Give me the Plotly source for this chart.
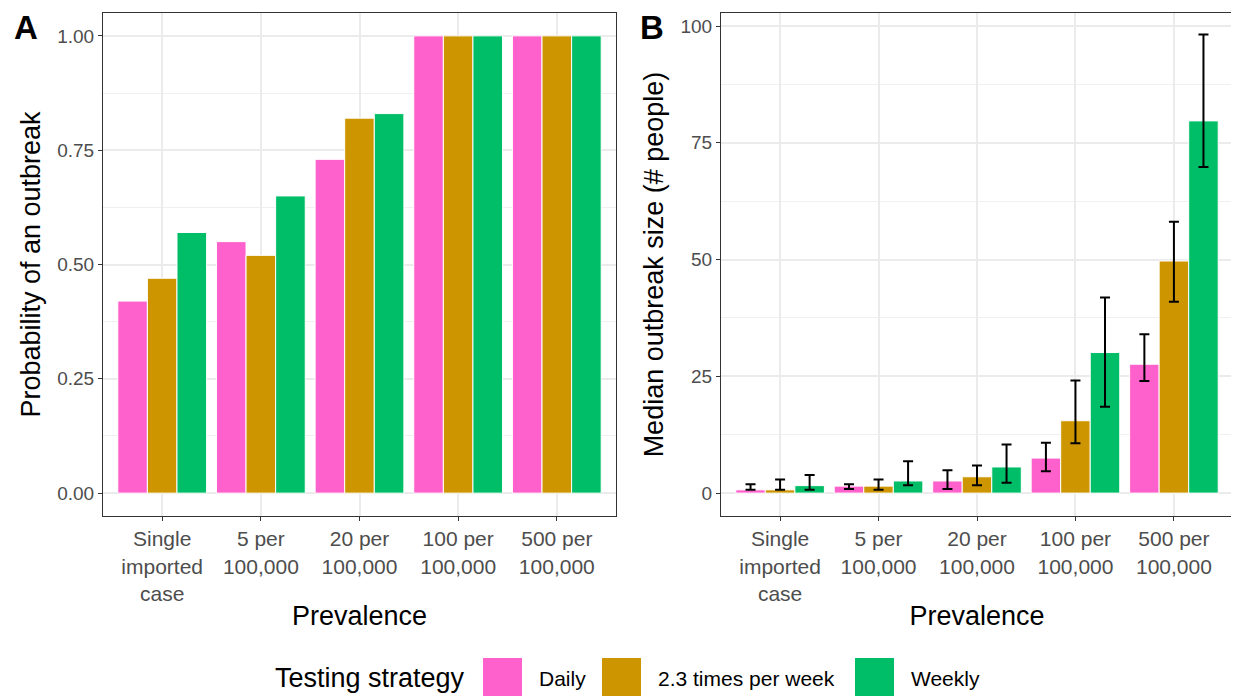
import plotly.graph_objects as go

categories = ["Single<br>imported<br>case", "5 per<br>100,000", "20 per<br>100,000",
              "100 per<br>100,000", "500 per<br>100,000"]
strategies = ["Daily", "2.3 times per week", "Weekly"]
colors = ["#FF61CC", "#CD9600", "#00BE67"]

# Panel A: probability of an outbreak
prob_daily = [0.42, 0.55, 0.73, 1.00, 1.00]
prob_23 = [0.47, 0.52, 0.82, 1.00, 1.00]
prob_weekly = [0.57, 0.65, 0.83, 1.00, 1.00]

# Panel B: median outbreak size with intervals
size_daily = [0.7, 1.5, 2.6, 7.5, 27.6]
size_daily_lo = [0.7, 0.9, 0.9, 4.7, 24.0]
size_daily_hi = [1.9, 1.9, 4.9, 10.8, 34.0]
size_23 = [0.7, 1.5, 3.5, 15.5, 49.7]
size_23_lo = [0.7, 0.7, 1.7, 10.7, 41.0]
size_23_hi = [2.9, 2.9, 5.9, 24.1, 58.1]
size_weekly = [1.6, 2.6, 5.6, 30.1, 79.7]
size_weekly_lo = [0.7, 1.7, 2.2, 18.5, 69.8]
size_weekly_hi = [3.9, 6.8, 10.4, 41.9, 98.2]

prob_series = [prob_daily, prob_23, prob_weekly]
size_series = [(size_daily, size_daily_lo, size_daily_hi),
               (size_23, size_23_lo, size_23_hi),
               (size_weekly, size_weekly_lo, size_weekly_hi)]

FONT = "Liberation Sans, Arial, Helvetica, sans-serif"

# page body has an 8px margin: figure drawn at (8, 8)
OFF = 8
W, H = 1239 - OFF, 696 - OFF


def px(x):
    return (x - OFF) / W


def py(y):
    return 1 - (y - OFF) / H


fig = go.Figure()

for name, col, vals in zip(strategies, colors, prob_series):
    fig.add_trace(go.Bar(x=categories, y=vals, name=name, marker_color=col,
                         marker_line_color="white", marker_line_width=1,
                         xaxis="x", yaxis="y", showlegend=False,
                         offsetgroup=name))

for name, col, (v, lo, hi) in zip(strategies, colors, size_series):
    fig.add_trace(go.Bar(x=categories, y=v, name=name, marker_color=col,
                         marker_line_color="white", marker_line_width=1,
                         xaxis="x2", yaxis="y2", showlegend=False,
                         offsetgroup=name,
                         error_y=dict(type="data", symmetric=False,
                                      array=[h - m for h, m in zip(hi, v)],
                                      arrayminus=[m - l for m, l in zip(v, lo)],
                                      color="black", thickness=2, width=5)))

y_dom = [py(516), py(13)]

common_x = dict(type="category", range=[-0.6, 4.6], showgrid=True, gridcolor="#EBEBEB",
                gridwidth=1.5, showline=True, mirror=True, linecolor="#333333", linewidth=1.1,
                ticks="outside", ticklen=4, tickwidth=1.1, tickcolor="#333333",
                tickfont=dict(size=21, color="#4D4D4D", family=FONT), zeroline=False,
                title=dict(text="Prevalence", font=dict(size=27, color="black", family=FONT),
                           standoff=2))
common_y = dict(showgrid=True, gridcolor="#EBEBEB", gridwidth=1.5, showline=True, mirror=True,
                linecolor="#333333", linewidth=1.1, ticks="outside", ticklen=4, tickwidth=1.1,
                tickcolor="#333333", tickfont=dict(size=19, color="#4D4D4D", family=FONT),
                zeroline=False)

fig.update_layout(
    width=W, height=H, plot_bgcolor="white", paper_bgcolor="white",
    margin=dict(l=0, r=0, t=0, b=0), barmode="group", bargap=0.1, bargroupgap=0,
    font=dict(family=FONT),
    xaxis=dict(common_x, domain=[px(103), px(616)], anchor="y"),
    yaxis=dict(common_y, domain=y_dom, anchor="x", range=[-0.05, 1.05],
               tickvals=[0, 0.25, 0.5, 0.75, 1.0], tickformat=".2f",
               minor=dict(tickvals=[0.125, 0.375, 0.625, 0.875], showgrid=True,
                          gridcolor="#F0F0F0", gridwidth=1),
               title=dict(text="Probability of an outbreak",
                          font=dict(size=27, color="black", family=FONT), standoff=8)),
    xaxis2=dict(common_x, domain=[px(721), px(1233)], anchor="y2"),
    yaxis2=dict(common_y, domain=y_dom, anchor="x2", range=[-4.9, 102.8],
                tickvals=[0, 25, 50, 75, 100],
                minor=dict(tickvals=[12.5, 37.5, 62.5, 87.5], showgrid=True,
                           gridcolor="#F0F0F0", gridwidth=1),
                title=dict(text="Median outbreak size (# people)",
                           font=dict(size=27, color="black", family=FONT), standoff=8)),
)

# Panel letters
for letter, xp in [("A", 13), ("B", 639)]:
    fig.add_annotation(text="<b>%s</b>" % letter, x=px(xp), y=1.0, xref="paper",
                       yref="paper", xanchor="left", yanchor="top", showarrow=False,
                       borderpad=0, font=dict(size=33, color="black", family=FONT))

# Manual legend (large square keys as in the reference)
leg_y = py(678)
fig.add_annotation(text="Testing strategy", x=px(273), y=leg_y, xref="paper", yref="paper",
                   xanchor="left", yanchor="middle", showarrow=False,
                   font=dict(size=27, color="black", family=FONT))
key_x = [483, 602, 855]
for name, col, kx in zip(strategies, colors, key_x):
    fig.add_shape(type="rect", xref="paper", yref="paper", x0=px(kx), x1=px(kx + 39),
                  y0=-0.02, y1=py(658), fillcolor=col, line=dict(width=0))
    fig.add_annotation(text=name, x=px(kx + 54), y=leg_y, xref="paper", yref="paper",
                       xanchor="left", yanchor="middle", showarrow=False,
                       font=dict(size=21, color="black", family=FONT))

fig.write_html("out.html")
